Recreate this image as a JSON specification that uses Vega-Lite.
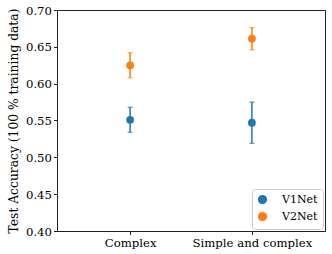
{
  "$schema": "https://vega.github.io/schema/vega-lite/v6.json",
  "autosize": {"type": "none"},
  "width": 268,
  "height": 221,
  "padding": {"left": 57, "top": 10, "right": 7, "bottom": 23},
  "config": {
    "font": "DejaVu Serif",
    "view": {"stroke": "#222", "strokeWidth": 1},
    "axis": {"labelFont": "DejaVu Serif", "titleFont": "DejaVu Serif", "labelFontSize": 11.7, "titleFontSize": 12.3, "titleFontWeight": "normal", "labelColor": "#000", "titleColor": "#000", "tickColor": "#222", "domainColor": "#222", "grid": false, "tickSize": 3.5, "labelOverlap": false},
    "legend": {"labelFont": "DejaVu Serif"}
  },
  "data": {"values": [
    {"cond": "Complex", "model": "V1Net", "acc": 0.551, "lo": 0.534, "hi": 0.568},
    {"cond": "Complex", "model": "V2Net", "acc": 0.625, "lo": 0.608, "hi": 0.642},
    {"cond": "Simple and complex", "model": "V1Net", "acc": 0.547, "lo": 0.519, "hi": 0.575},
    {"cond": "Simple and complex", "model": "V2Net", "acc": 0.661, "lo": 0.646, "hi": 0.676}
  ]},
  "encoding": {
    "x": {"field": "cond", "type": "nominal", "scale": {"type": "point", "padding": 0.6}, "sort": null, "axis": {"title": null, "labelAngle": 0, "labelPadding": 3}},
    "color": {"field": "model", "type": "nominal", "scale": {"domain": ["V1Net", "V2Net"], "range": ["#1f77b4", "#ff7f0e"]}, "legend": {"title": null, "orient": "bottom-right", "strokeColor": "#ccc", "padding": 5, "fillColor": "white", "cornerRadius": 3, "labelFontSize": 11, "labelColor": "#000", "symbolType": "circle", "symbolSize": 60, "symbolOpacity": 1, "offset": 2, "rowPadding": 2, "labelOffset": 14}}
  },
  "layer": [
    {
      "mark": {"type": "rule", "strokeWidth": 1.5},
      "encoding": {
        "y": {"field": "lo", "type": "quantitative", "scale": {"domain": [0.4, 0.7], "nice": false, "zero": false}, "axis": {"title": "Test Accuracy (100 % training data)", "values": [0.4, 0.45, 0.5, 0.55, 0.6, 0.65, 0.7], "format": ".2f", "titlePadding": 5, "labelOverlap": false}},
        "y2": {"field": "hi"}
      }
    },
    {
      "mark": {"type": "tick", "orient": "horizontal", "size": 5, "thickness": 1.2},
      "encoding": {"y": {"field": "lo", "type": "quantitative", "axis": {"title": "Test Accuracy (100 % training data)", "values": [0.4, 0.45, 0.5, 0.55, 0.6, 0.65, 0.7], "format": ".2f", "titlePadding": 5, "labelOverlap": false}}}
    },
    {
      "mark": {"type": "tick", "orient": "horizontal", "size": 5, "thickness": 1.2},
      "encoding": {"y": {"field": "hi", "type": "quantitative", "axis": {"title": "Test Accuracy (100 % training data)", "values": [0.4, 0.45, 0.5, 0.55, 0.6, 0.65, 0.7], "format": ".2f", "titlePadding": 5, "labelOverlap": false}}}
    },
    {
      "mark": {"type": "point", "filled": true, "opacity": 1, "size": 60},
      "encoding": {"y": {"field": "acc", "type": "quantitative", "axis": {"title": "Test Accuracy (100 % training data)", "values": [0.4, 0.45, 0.5, 0.55, 0.6, 0.65, 0.7], "format": ".2f", "titlePadding": 5, "labelOverlap": false}}}
    }
  ]
}
